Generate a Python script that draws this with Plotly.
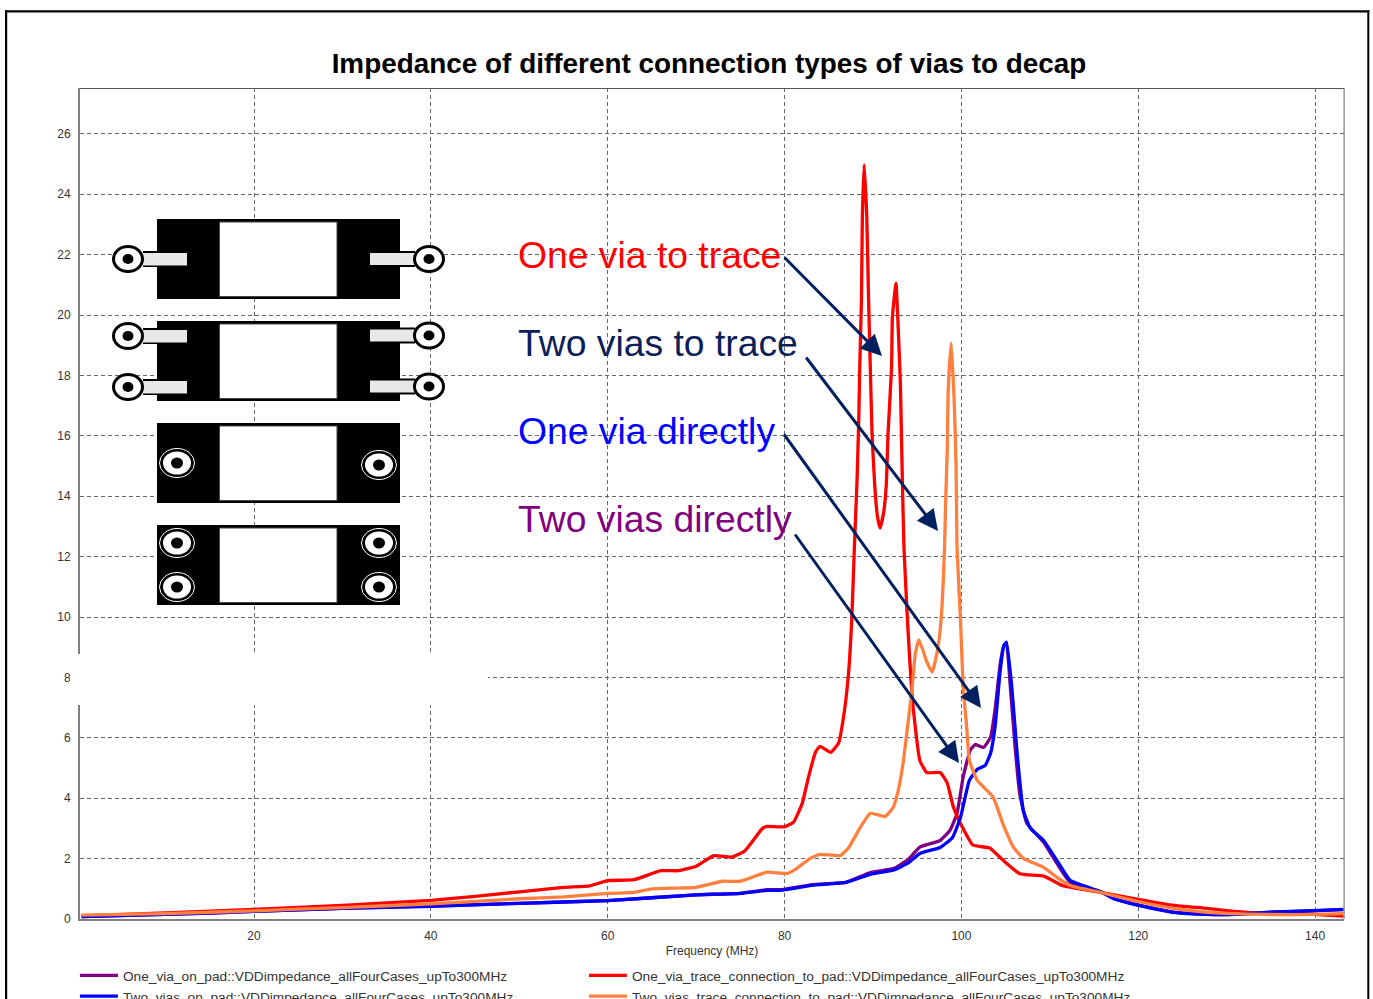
import plotly.graph_objects as go

# ---------- data (MHz, ohm) ----------
purple_x = [0.5, 10, 20, 30, 40, 50, 60, 70, 75, 78, 79.5, 83.2, 86.9, 89.7, 92.3, 93.9, 95.3, 97.6, 98.7, 99.5, 100.2, 101, 101.6, 102.5, 103.3, 103.8, 104.4, 104.8, 105.1, 105.5, 106.1, 106.6, 107.4, 109.3, 110.8, 112.3, 115.7, 117.2, 120, 124, 127.8, 130.8, 134.6, 139.8, 143.2]
purple_y = [0.08, 0.15, 0.25, 0.35, 0.43, 0.52, 0.61, 0.8, 0.85, 0.97, 0.97, 1.14, 1.21, 1.54, 1.67, 1.95, 2.38, 2.6, 2.93, 3.49, 4.7, 5.59, 5.78, 5.68, 6.02, 6.92, 8.47, 9.05, 9.15, 7.81, 5.59, 4.15, 3.17, 2.54, 1.84, 1.21, 0.91, 0.68, 0.47, 0.23, 0.15, 0.15, 0.22, 0.27, 0.31]
red_x = [0.5, 10, 20, 30, 40, 45, 50, 55, 58, 60, 63, 66, 68, 70, 72, 74, 75.5, 77.5, 78, 79.9, 81, 82, 82.7, 83.5, 84, 85.2, 86.1, 86.6, 87.2, 87.6, 87.9, 88.2, 88.4, 88.5, 88.7, 88.8, 89, 89.3, 89.5, 89.7, 89.9, 90.2, 90.5, 90.8, 91.2, 91.5, 91.7, 92.1, 92.2, 92.6, 92.8, 93.1, 93.3, 93.5, 93.9, 94.5, 95.3, 96.1, 97.6, 98.4, 99.1, 100.1, 101.3, 103.2, 104.7, 106.6, 109.3, 111.5, 113.4, 115.7, 120, 124, 127.8, 130.8, 134.6, 139.8, 143.2]
red_y = [0.1, 0.2, 0.32, 0.45, 0.62, 0.75, 0.9, 1.05, 1.1, 1.27, 1.3, 1.6, 1.6, 1.75, 2.1, 2.05, 2.25, 3.0, 3.07, 3.05, 3.2, 3.83, 4.69, 5.52, 5.72, 5.52, 5.82, 6.55, 8.01, 9.9, 12.32, 14.55, 16.65, 18.25, 20.55, 23.25, 24.98, 23.25, 20.55, 18.25, 16.05, 14.35, 13.35, 12.95, 13.45, 14.35, 16.05, 18.25, 19.95, 21.05, 19.95, 17.75, 14.85, 12.35, 9.9, 7.15, 5.25, 4.85, 4.85, 4.5, 3.7, 3.05, 2.45, 2.35, 1.95, 1.5, 1.42, 1.1, 1.0, 0.88, 0.65, 0.45, 0.35, 0.25, 0.18, 0.15, 0.1]
blue_x = [0.5, 10, 20, 30, 40, 50, 60, 70, 75, 78, 79.5, 83.2, 86.9, 89.7, 92.3, 93.9, 95.3, 97.6, 99, 99.9, 100.9, 101.8, 102.7, 103.3, 103.8, 104.4, 104.8, 105.1, 105.7, 106.3, 107, 107.8, 109.3, 110.8, 112.3, 115.7, 117.2, 120, 124, 127.8, 130.8, 134.6, 139.8, 143.2]
blue_y = [0.08, 0.15, 0.25, 0.35, 0.42, 0.52, 0.61, 0.8, 0.85, 0.95, 0.95, 1.12, 1.21, 1.48, 1.62, 1.84, 2.17, 2.37, 2.7, 3.37, 4.59, 4.96, 5.09, 5.49, 6.35, 8.25, 9.05, 9.17, 7.68, 5.49, 3.6, 3.0, 2.6, 1.94, 1.28, 0.91, 0.68, 0.45, 0.22, 0.15, 0.15, 0.22, 0.28, 0.32]
orange_x = [0.5, 10, 20, 30, 40, 50, 55, 60, 63, 65, 70, 73, 75, 78, 80.3, 81.4, 82.9, 84, 86.3, 87.2, 88.6, 89.7, 91.4, 92.3, 92.85, 93.4, 94, 94.4, 94.8, 95.2, 96.1, 96.7, 97.3, 97.7, 98.1, 98.2, 98.4, 98.5, 98.85, 99.2, 99.4, 99.5, 99.9, 100.2, 100.6, 100.9, 101.8, 103.6, 104.7, 105.9, 107, 109.3, 110.8, 112.3, 115.7, 120, 124, 127.8, 130.8, 134.6, 139.8, 143.2]
orange_y = [0.13, 0.18, 0.27, 0.38, 0.5, 0.67, 0.73, 0.85, 0.88, 1.0, 1.05, 1.25, 1.25, 1.55, 1.51, 1.68, 2.01, 2.14, 2.1, 2.34, 3.05, 3.5, 3.4, 3.7, 4.25, 5.15, 6.58, 7.58, 8.81, 9.24, 8.51, 8.18, 8.91, 9.9, 12.35, 13.65, 15.55, 17.45, 19.08, 17.05, 14.95, 12.35, 9.9, 7.68, 6.35, 5.25, 4.59, 4.03, 3.15, 2.37, 2.01, 1.71, 1.38, 1.11, 0.88, 0.58, 0.35, 0.22, 0.18, 0.15, 0.15, 0.18]

series_names = ["One_via_on_pad::VDDimpedance_allFourCases_upTo300MHz",
                "One_via_trace_connection_to_pad::VDDimpedance_allFourCases_upTo300MHz",
                "Two_vias_on_pad::VDDimpedance_allFourCases_upTo300MHz",
                "Two_vias_trace_connection_to_pad::VDDimpedance_allFourCases_upTo300MHz"]
series_colors = ["#800080", "#ff0000", "#0000ff", "#ff7f3f"]
series_legends = ["legend", "legend2", "legend", "legend2"]
x_ticks = [20, 40, 60, 80, 100, 120, 140]
y_ticks = list(range(0, 28, 2))
title_text = "Impedance of different connection types of vias to decap"
labels = ["One via to trace", "Two vias to trace", "One via directly", "Two vias directly"]
label_colors = ["#ff0000", "#0b2058", "#0000ff", "#800080"]

# ---------- layout constants (pixels) ----------
W, H = 1373, 999
L, R, T, B = 80, 1344, 88, 919
px = lambda v: (v - L) / (R - L)
py = lambda v: (B - v) / (B - T)
FONT = "Liberation Sans"
NAVY = "#002060"

fig = go.Figure()
for xs, ys, n, c, lg in zip([purple_x, red_x, blue_x, orange_x], [purple_y, red_y, blue_y, orange_y], series_names, series_colors, series_legends):
    fig.add_trace(go.Scatter(x=xs, y=ys, name=n, mode="lines", legend=lg, line=dict(color=c, width=3.3, shape="spline", smoothing=0.4)))

shapes = []
def rect(x0, y0, x1, y1, fill, lw=0, lc="black"):
    shapes.append(dict(type="rect", xref="paper", yref="paper", layer="above", x0=px(x0), x1=px(x1), y0=py(y1), y1=py(y0),
                       fillcolor=fill, line=dict(width=lw, color=lc)))
def ell(cx, cy, rx, ry, fill, lw=0, lc="black"):
    shapes.append(dict(type="circle", xref="paper", yref="paper", layer="above", x0=px(cx - rx), x1=px(cx + rx), y0=py(cy + ry), y1=py(cy - ry),
                       fillcolor=fill, line=dict(width=lw, color=lc)))

# plot border details
rect(80, 88, 1344, 89, "#555555")
rect(1343.5, 88, 1344.7, 919, "#808080")
# white patch over the chart
rect(70, 654, 488, 705, "white")
# outer frame
for a in [(5, 10.3, 7.2, H + 5), (5, 10.3, 1369.3, 12.4), (1367.3, 10.3, 1369.3, H + 5)]:
    rect(a[0], a[1], a[2], a[3], "black")

# capacitor sketches
def cap(top):
    rect(157, top, 400, top + 80, "black")
    rect(219.5, top + 3, 337, top + 77.5, "white", 1, "#444")
def trace_via(cy, side):
    if side == "l":
        rect(143, cy - 8, 158, cy + 8, "black")
        rect(143, cy - 6, 187, cy + 6.5, "#e8e8e8")
        ell(128, cy, 14.5, 12.5, "white", 3)
        ell(128, cy, 5.5, 5, "black")
    else:
        rect(399, cy - 8, 415, cy + 8, "black")
        rect(370, cy - 6, 415, cy + 6, "#e8e8e8")
        ell(429, cy, 14.5, 12.5, "white", 3)
        ell(429, cy, 5.5, 5, "black")
def direct_via(cx, cy):
    ell(cx, cy, 17.5, 14.5, "black", 1, "white")
    ell(cx, cy, 14, 11.5, "white")
    ell(cx, cy, 6, 5.5, "black")

cap(219); cap(321); cap(423); cap(525)
trace_via(259, "l"); trace_via(259, "r")
trace_via(336, "l"); trace_via(335.5, "r")
trace_via(387, "l"); trace_via(386.5, "r")
direct_via(177, 463); direct_via(379, 465)
direct_via(177, 543); direct_via(379, 543)
direct_via(177, 587); direct_via(379, 587)

annotations = []
for t, c, y in zip(labels, label_colors, [255, 343, 431, 519]):
    annotations.append(dict(text=t, xref="paper", yref="paper", x=px(516), y=py(y), xanchor="left", yanchor="middle",
                            showarrow=False, font=dict(family=FONT, size=37.3, color=c)))
for (x0, y0, x1, y1) in [(783, 256, 882, 356), (805, 356, 938, 531), (783, 433, 981, 708), (794, 533, 959, 763)]:
    annotations.append(dict(text="", xref="paper", yref="paper", x=px(x1), y=py(y1), ax=x0 - x1, ay=y0 - y1,
                            axref="pixel", ayref="pixel", showarrow=True, arrowhead=2, arrowsize=1.4, arrowwidth=3, arrowcolor=NAVY))

axis_font = dict(family=FONT, size=12, color="#333333")
grid = dict(showgrid=True, gridcolor="#666666", gridwidth=1, griddash="4px,3px", zeroline=False,
            showline=True, linecolor="#808080", linewidth=2, mirror=False, ticks="", tickfont=axis_font)
legend_common = dict(orientation="v", xanchor="left", y=py(960), yanchor="top", itemwidth=38,
                     font=dict(family=FONT, size=13.7, color="#333333"), bgcolor="rgba(0,0,0,0)", traceorder="normal")
fig.update_layout(
    width=W, height=H, margin=dict(l=L, r=W - R, t=T, b=H - B, pad=0, autoexpand=False),
    paper_bgcolor="white", plot_bgcolor="white",
    title=dict(text="<b>%s</b>" % title_text, x=px(709), xref="paper", xanchor="center", y=1 - 63 / H, yanchor="middle",
               font=dict(family=FONT, size=27.9, color="black")),
    xaxis=dict(range=[0.32, 143.27], tickvals=x_ticks, ticklabelstandoff=5, title=dict(text="Frequency (MHz)", font=axis_font, standoff=4), **grid),
    yaxis=dict(range=[0, 27.52], tickvals=y_ticks, ticklabelstandoff=5, **grid),
    legend=dict(x=-0.004, **legend_common),
    legend2=dict(x=px(589) - 0.004, **legend_common),
    showlegend=True, shapes=shapes, annotations=annotations,
)
fig.write_html("out.html", config=dict(displayModeBar=False),
               post_script="document.body.style.margin='0';document.documentElement.style.overflow='hidden';")
